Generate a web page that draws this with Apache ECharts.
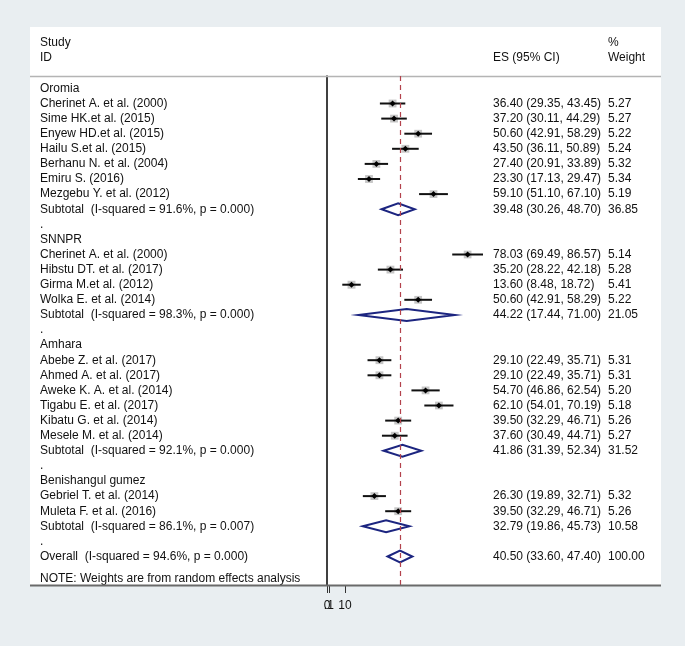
<!DOCTYPE html>
<html><head><meta charset="utf-8">
<script src="https://cdn.jsdelivr.net/npm/echarts@6/dist/echarts.min.js"></script>
<style>html,body{margin:0;padding:0;background:#e9eef1}#c{width:685px;height:646px}</style>
</head><body><div id="c"></div>
<script>
// ---- data ----
const rowLabels = [
  'Oromia',
  'Cherinet A. et al. (2000)',
  'Sime HK.et al. (2015)',
  'Enyew HD.et al. (2015)',
  'Hailu S.et al. (2015)',
  'Berhanu N. et al. (2004)',
  'Emiru S. (2016)',
  'Mezgebu Y. et al. (2012)',
  'Subtotal  (I-squared = 91.6%, p = 0.000)',
  '.',
  'SNNPR',
  'Cherinet A. et al. (2000)',
  'Hibstu DT. et al. (2017)',
  'Girma M.et al. (2012)',
  'Wolka E. et al. (2014)',
  'Subtotal  (I-squared = 98.3%, p = 0.000)',
  '.',
  'Amhara',
  'Abebe Z. et al. (2017)',
  'Ahmed A. et al. (2017)',
  'Aweke K. A. et al. (2014)',
  'Tigabu E. et al. (2017)',
  'Kibatu G. et al. (2014)',
  'Mesele M. et al. (2014)',
  'Subtotal  (I-squared = 92.1%, p = 0.000)',
  '.',
  'Benishangul gumez',
  'Gebriel T. et al. (2014)',
  'Muleta F. et al. (2016)',
  'Subtotal  (I-squared = 86.1%, p = 0.007)',
  '.',
  'Overall  (I-squared = 94.6%, p = 0.000)',
  'NOTE: Weights are from random effects analysis'
];
const rowKind = ['group','study','study','study','study','study','study','study','pooled','gap',
  'group','study','study','study','study','pooled','gap',
  'group','study','study','study','study','study','study','pooled','gap',
  'group','study','study','pooled','gap','pooled','note'];
const rowPos = [0,1,2,3,4,5,6,7,8,9,10,11,12,13,14,15,16,17,18,19,20,21,22,23,24,25,26,27,28,29,30,31,32.45];
const esVals =  [null,36.40,37.20,50.60,43.50,27.40,23.30,59.10,39.48,null,null,78.03,35.20,13.60,50.60,44.22,null,null,29.10,29.10,54.70,62.10,39.50,37.60,41.86,null,null,26.30,39.50,32.79,null,40.50,null];
const ciLow =   [null,29.35,30.11,42.91,36.11,20.91,17.13,51.10,30.26,null,null,69.49,28.22,8.48,42.91,17.44,null,null,22.49,22.49,46.86,54.01,32.29,30.49,31.39,null,null,19.89,32.29,19.86,null,33.60,null];
const ciHigh =  [null,43.45,44.29,58.29,50.89,33.89,29.47,67.10,48.70,null,null,86.57,42.18,18.72,58.29,71.00,null,null,35.71,35.71,62.54,70.19,46.71,44.71,52.34,null,null,32.71,46.71,45.73,null,47.40,null];
const weightVals = [null,5.27,5.27,5.22,5.24,5.32,5.34,5.19,36.85,null,null,5.14,5.28,5.41,5.22,21.05,null,null,5.31,5.31,5.20,5.18,5.26,5.27,31.52,null,null,5.32,5.26,10.58,null,100.00,null];
const overallES = 40.50;
const headerTexts = [['Study','ID'], ['','ES (95% CI)'], ['%','Weight']];
const tickValues = [0, 10];
const tickLabels = ['0', '10'];
const extraTickValues = [1];
const extraTickLabels = ['.1'];

// ---- build ----
const FONT = '12px "Liberation Sans", Arial, sans-serif';
const textData = [], ciData = [], diaData = [];
rowLabels.forEach((lab, i) => {
  const hasVal = esVals[i] != null;
  const esTxt = hasVal ? `${esVals[i].toFixed(2)} (${ciLow[i].toFixed(2)}, ${ciHigh[i].toFixed(2)})` : '';
  const wTxt = hasVal ? weightVals[i].toFixed(2) : '';
  textData.push({ value: [0, rowPos[i]], lab, esTxt, wTxt });
  if (rowKind[i] === 'study') ciData.push([esVals[i], rowPos[i], ciLow[i], ciHigh[i], weightVals[i]]);
  if (rowKind[i] === 'pooled') diaData.push([esVals[i], rowPos[i], ciLow[i], ciHigh[i]]);
});

const chart = echarts.init(document.getElementById('c'), null, { renderer: 'canvas' });
const headerGraphics = [];
const hx = [40, 493, 608];
headerTexts.forEach((pair, k) => {
  pair.forEach((t, j) => {
    if (!t) return;
    headerGraphics.push({ type: 'text', z: 5, x: hx[k], y: j === 0 ? 43 : 58,
      style: { text: t, font: FONT, fill: '#111', textVerticalAlign: 'middle' } });
  });
});

const mkXAxis = (vals, labs) => ({
  type: 'value', min: 0, max: 100, position: 'bottom',
  axisLine: { show: false, onZero: false },
  splitLine: { show: false },
  axisTick: { show: true, customValues: vals, length: 8, lineStyle: { color: '#333', width: 1 } },
  axisLabel: { customValues: vals, interval: 0, showMinLabel: true, margin: 15, color: '#111', fontSize: 12,
    fontFamily: '"Liberation Sans", Arial, sans-serif', hideOverlap: false,
    formatter: v => { const k = vals.indexOf(v); return k >= 0 ? labs[k] : ''; } }
});

chart.setOption({
  backgroundColor: '#e9eef1',
  animation: false,
  graphic: [
    { type: 'rect', z: -5, shape: { x: 30, y: 27, width: 631, height: 558 }, style: { fill: '#ffffff' } },
    { type: 'line', z: 1, shape: { x1: 30, y1: 76.5, x2: 661, y2: 76.5 }, style: { stroke: '#b4b4b4', lineWidth: 1.5 } },
    { type: 'line', z: 10, shape: { x1: 30, y1: 585.5, x2: 661, y2: 585.5 }, style: { stroke: '#6a6a6a', lineWidth: 2 } },
    ...headerGraphics
  ],
  grid: { left: 327, top: 76, width: 180.2, height: 509, containLabel: false },
  xAxis: [mkXAxis(tickValues, tickLabels), mkXAxis(extraTickValues, extraTickLabels)],
  yAxis: {
    type: 'value', inverse: true, min: -0.821, max: 32.887,
    axisLine: { show: true, onZero: false, lineStyle: { color: '#000', width: 1.5 } },
    axisTick: { show: false }, axisLabel: { show: false }, splitLine: { show: false }
  },
  series: [
    {
      type: 'custom', z: 1, clip: false,
      data: textData.map(d => d.value),
      encode: { x: 0, y: 1 },
      renderItem: (params, api) => {
        const d = textData[params.dataIndex];
        const y = api.coord([0, api.value(1)])[1];
        const mk = (x, t) => ({ type: 'text', x, y, style: { text: t, font: FONT, fill: '#111', textVerticalAlign: 'middle' } });
        return { type: 'group', children: [mk(40, d.lab), mk(493, d.esTxt), mk(608, d.wTxt)] };
      },
      markLine: {
        silent: true, symbol: 'none', label: { show: false },
        lineStyle: { color: '#b3424c', type: [5, 4], width: 1.2 },
        data: [{ xAxis: overallES }]
      }
    },
    {
      type: 'custom', z: 3, clip: false,
      data: ciData,
      encode: { x: [0, 2, 3], y: 1 },
      renderItem: (params, api) => {
        const c = api.coord([api.value(0), api.value(1)]);
        const l = api.coord([api.value(2), api.value(1)]);
        const h = api.coord([api.value(3), api.value(1)]);
        const s = Math.sqrt(api.value(4)) * 3.4;
        return { type: 'group', children: [
          { type: 'rect', shape: { x: c[0] - s / 2, y: c[1] - s / 2, width: s, height: s }, style: { fill: '#c6c6c6' } },
          { type: 'line', shape: { x1: l[0], y1: c[1], x2: h[0], y2: c[1] }, style: { stroke: '#111', lineWidth: 2 } },
          { type: 'polygon', shape: { points: [[c[0] - 3, c[1]], [c[0], c[1] - 3], [c[0] + 3, c[1]], [c[0], c[1] + 3]] }, style: { fill: '#000' } }
        ] };
      }
    },
    {
      type: 'custom', z: 3, clip: false,
      data: diaData,
      encode: { x: [0, 2, 3], y: 1 },
      renderItem: (params, api) => {
        const c = api.coord([api.value(0), api.value(1)]);
        const l = api.coord([api.value(2), api.value(1)]);
        const h = api.coord([api.value(3), api.value(1)]);
        return { type: 'polygon', shape: { points: [[l[0], c[1]], [c[0], c[1] - 6], [h[0], c[1]], [c[0], c[1] + 6]] },
          style: { fill: 'none', stroke: '#1c2580', lineWidth: 2 } };
      }
    }
  ]
});
</script>
</body></html>
